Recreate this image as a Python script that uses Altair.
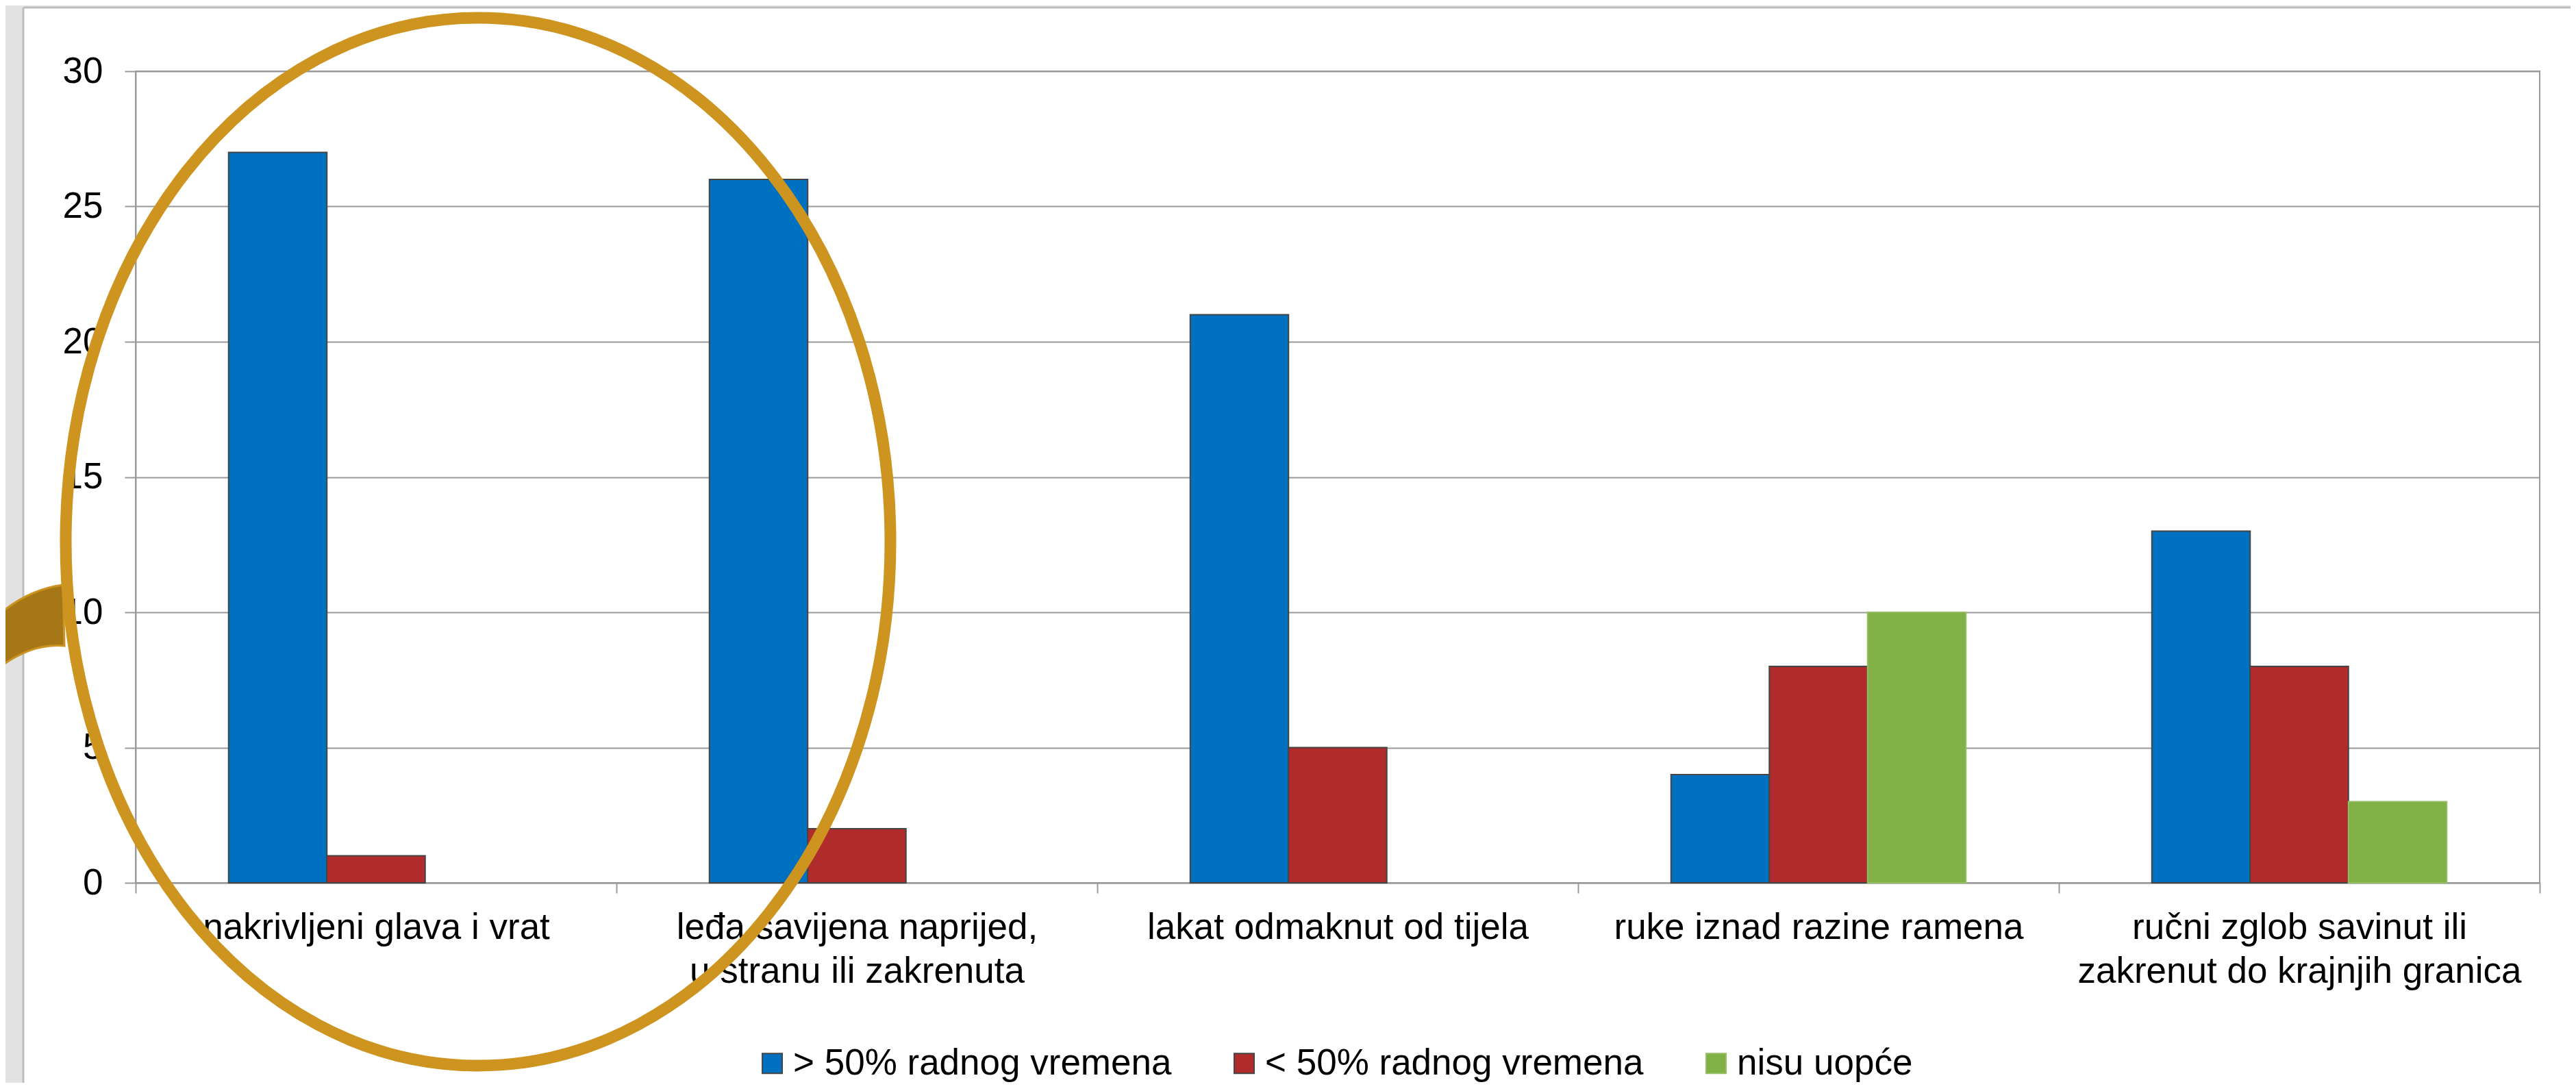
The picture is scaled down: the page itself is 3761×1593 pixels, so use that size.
import altair as alt
import pandas as pd

# ---- data ----
categories = [
    "nakrivljeni glava i vrat",
    "leđa savijena naprijed,\nu stranu ili zakrenuta",
    "lakat odmaknut od tijela",
    "ruke iznad razine ramena",
    "ručni zglob savinut ili\nzakrenut do krajnjih granica",
]
series = ["> 50% radnog vremena", "< 50% radnog vremena", "nisu uopće"]
over_50 = [27, 26, 21, 4, 13]
under_50 = [1, 2, 5, 8, 8]
never = [0, 0, 0, 10, 3]
y_ticks = [0, 5, 10, 15, 20, 25, 30]

fill_colors = ["#0070C0", "#B02B2B", "#80B046"]
stroke_colors = ["#454545", "#454545", "#93BE62"]

rows = []
for i, c in enumerate(categories):
    for s, vals in zip(series, [over_50, under_50, never]):
        rows.append({"category": c, "series": s, "value": vals[i]})
df = pd.DataFrame(rows)

FONT = "Liberation Sans"
GRAY = "#9a9a9a"

bars = (
    alt.Chart(df)
    .transform_filter("datum.value > 0")
    .mark_bar(strokeWidth=2)
    .encode(
        x=alt.X(
            "category:N",
            sort=categories,
            scale=alt.Scale(domain=categories, paddingInner=0, paddingOuter=0),
            axis=alt.Axis(
                title=None, labelAngle=0, labelFontSize=53, labelFont=FONT, labelColor="black",
                labelExpr="split(datum.label, '\\n')", labelLineHeight=64,
                labelLimit=3000, labelOverlap=False, labelBound=False,
                tickBand="extent", tickSize=15, tickColor=GRAY, tickWidth=2,
                domainColor=GRAY, domainWidth=2, labelPadding=24, grid=False,
            ),
        ),
        xOffset=alt.XOffset(
            "series:N", sort=series,
            scale=alt.Scale(domain=series, paddingInner=0, paddingOuter=0.946),
        ),
        y=alt.Y(
            "value:Q",
            scale=alt.Scale(domain=[0, 30], nice=False),
            axis=alt.Axis(
                title=None, values=y_ticks, labelFontSize=53, labelFont=FONT, labelColor="black",
                labelPadding=32, tickSize=16, tickColor=GRAY, tickWidth=2,
                domainColor=GRAY, domainWidth=2, gridColor=GRAY, gridWidth=2,
            ),
        ),
        fill=alt.Fill(
            "series:N", sort=series,
            scale=alt.Scale(domain=series, range=fill_colors),
            legend=alt.Legend(title=None),
        ),
        stroke=alt.Stroke(
            "series:N", sort=series,
            scale=alt.Scale(domain=series, range=stroke_colors),
            legend=alt.Legend(title=None),
        ),
    )
)

deco = pd.DataFrame({"k": [0]})

strip_left = alt.Chart(deco).mark_rect(fill="#E2E2E2", strokeWidth=0).encode(
    x=alt.value(-200), x2=alt.value(-165), y=alt.value(-110), y2=alt.value(1500)
)
strip_top = alt.Chart(deco).mark_rect(fill="#E2E2E2", strokeWidth=0).encode(
    x=alt.value(-200), x2=alt.value(3600), y=alt.value(-110), y2=alt.value(-93)
)
border_v = alt.Chart(deco).mark_rule(color="#BDBDBD", strokeWidth=3).encode(
    x=alt.value(-164), y=alt.value(-93), y2=alt.value(1500)
)
border_h = alt.Chart(deco).mark_rule(color="#BDBDBD", strokeWidth=3).encode(
    x=alt.value(-164), x2=alt.value(3600), y=alt.value(-93)
)

ARROW_PATH = "M -215 808 Q -166.5 758 -106 750 L -104 839 Q -159.5 834 -215 884 Z"
arrow = alt.Chart(deco).mark_point(
    shape=ARROW_PATH, size=4, filled=True, fill="#A67716", stroke="#CC9320",
    strokeWidth=3, opacity=1,
).encode(x=alt.value(0), y=alt.value(0))

ELLIPSE_PATH = (
    "M 602 0 C 602 422.5 332.5 765 0 765 C -332.5 765 -602 422.5 -602 0 "
    "C -602 -422.5 -332.5 -765 0 -765 C 332.5 -765 602 -422.5 602 0 Z"
)
ellipse = alt.Chart(deco).mark_point(
    shape=ELLIPSE_PATH, size=4, filled=False, stroke="#CD9420",
    strokeWidth=17, opacity=1,
).encode(x=alt.value(500), y=alt.value(687))

chart = (
    alt.layer(bars, strip_left, strip_top, border_v, border_h, arrow, ellipse)
    .properties(
        width=3510, height=1185,
        autosize=alt.AutoSizeParams(type="none"),
        padding={"left": 190, "top": 96, "right": 45, "bottom": 292},
        background="white",
    )
    .configure(font=FONT)
    .configure_view(stroke=GRAY, strokeWidth=2)
    .configure_legend(
        orient="none", legendX=903, legendY=1422, direction="horizontal",
        symbolType="square", symbolSize=841, symbolStrokeWidth=2,
        labelFontSize=53, labelFont=FONT, labelColor="black", labelLimit=2000,
        labelOffset=4, columnPadding=79, padding=0,
    )
)

chart.save("out.html", embed_options={"renderer": "svg", "actions": False})
